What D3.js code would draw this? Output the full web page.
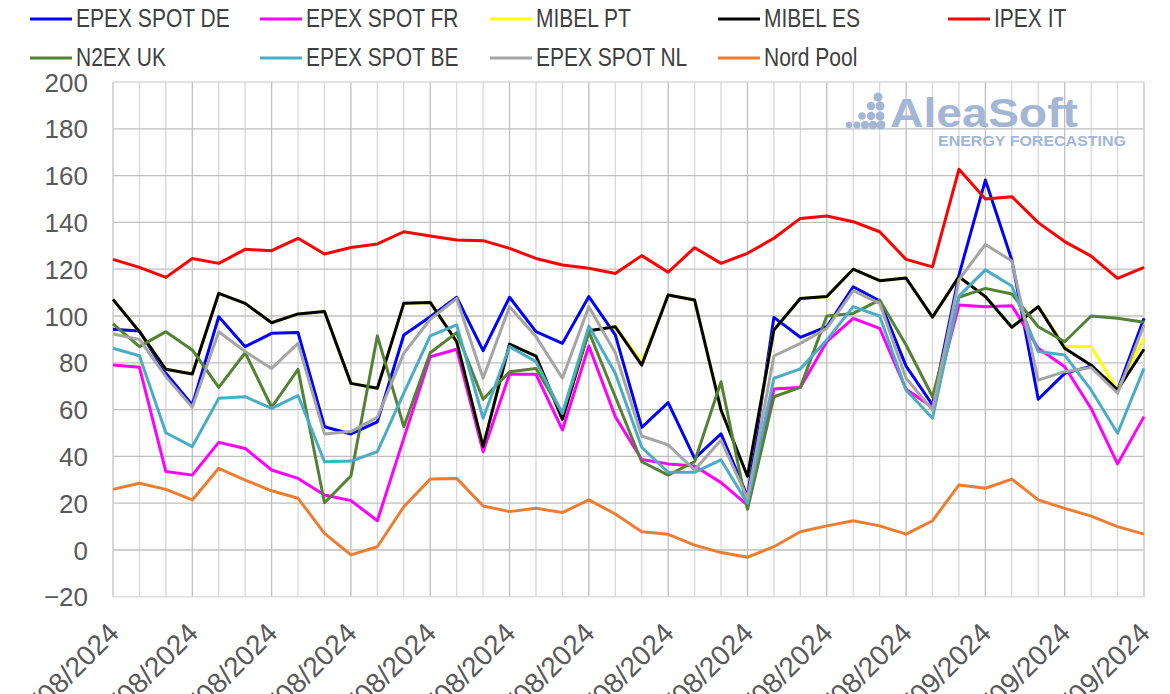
<!DOCTYPE html>
<html>
<head>
<meta charset="utf-8">
<script src="https://cdn.jsdelivr.net/npm/d3@7"></script>
<style>
  html, body { margin: 0; padding: 0; background: #ffffff; }
  svg { display: block; }
</style>
</head>
<body>
<svg id="chart" width="1170" height="694"></svg>
<script>
const dates = [
  "01/08/2024","02/08/2024","03/08/2024","04/08/2024","05/08/2024","06/08/2024","07/08/2024","08/08/2024",
  "09/08/2024","10/08/2024","11/08/2024","12/08/2024","13/08/2024","14/08/2024","15/08/2024","16/08/2024",
  "17/08/2024","18/08/2024","19/08/2024","20/08/2024","21/08/2024","22/08/2024","23/08/2024","24/08/2024",
  "25/08/2024","26/08/2024","27/08/2024","28/08/2024","29/08/2024","30/08/2024","31/08/2024","01/09/2024",
  "02/09/2024","03/09/2024","04/09/2024","05/09/2024","06/09/2024","07/09/2024","08/09/2024","09/09/2024"
];
const xTickLabels = dates.filter((d, i) => i % 3 === 0);
const yTicks = [-20, 0, 20, 40, 60, 80, 100, 120, 140, 160, 180, 200];

const seriesNames = ["EPEX SPOT DE","EPEX SPOT FR","MIBEL PT","MIBEL ES","IPEX IT","N2EX UK","EPEX SPOT BE","EPEX SPOT NL","Nord Pool"];

const epexDE = [94.3,93.6,75.5,62,99.7,86.9,92.6,92.9,52.7,49.6,54.8,91.9,99.7,108,85.2,108,93.3,88.3,108.3,91.9,52.4,63,39.2,49.6,22.8,99.4,90.9,95.4,112.5,106.5,78.6,62,117.5,158.1,123.9,64.4,75.5,78.6,68.4,99];
const epexFR = [79.1,78.1,33.5,32,46,43.4,34.2,30.6,23.5,21.1,12.5,47.7,82.6,85.8,42,75.1,75.1,51.3,87.2,57,38.7,36.8,35.9,28.8,19.2,68.8,69.4,89,99,94.7,68.7,61,104.7,104,104.4,86.2,78.3,60.5,36.8,57];
const mibelPT = [107.1,93.3,77.2,75.2,109.7,105.4,97.1,100.9,101.9,71.2,69.1,105.4,105.8,89,44.2,88,82.9,55.8,93.7,95.4,80.5,109,106.8,59.8,31.5,94,107.5,108.3,120,115.1,116.2,99.5,116.8,108.3,95.2,104,87,87,68.4,90.5];
const mibelES = [107.1,93.3,77.2,75.2,109.7,105.4,97.1,100.9,101.9,71.2,69.1,105.4,105.8,89,44.2,88,82.9,55.8,93.7,95.4,79,109,106.8,59.8,31.5,94,107.5,108.3,120,115.1,116.2,99.5,116.8,108.3,95.2,104,86.2,79,68.4,85.8];
const ipexIT = [124.2,120.8,116.5,124.6,122.5,128.5,127.9,133.2,126.5,129.3,130.8,136,134.2,132.5,132.2,128.9,124.6,121.8,120.4,118.2,125.8,118.7,129.2,122.5,126.8,133.2,141.7,142.7,140.3,136,124.2,121,162.7,150,151,139.9,131.8,125.6,116.1,120.8];
const n2exUK = [96.6,86.9,93.3,85.5,69.5,84.3,61,77.2,20.2,31.6,91.5,52.7,84.3,92.9,64.4,76.2,77.6,58.4,93.3,65.5,37.7,32,37.7,71.9,17.4,65.5,69.5,100,101.1,106.8,87.6,65.5,108,111.8,109.4,95.4,89,100,99,97.3];
const epexBE = [86.2,83,50.1,44.2,64.8,65.5,60.5,66,37.7,38,42,67,91.5,96.2,56.3,86.9,80.5,58.4,95.7,75.5,43.9,33.2,33.2,38.5,20,73.4,77.4,89.7,104,100,68.4,56.3,108.5,119.7,112.8,84.8,83.3,68.4,49.9,77.6];
const epexNL = [92.3,90,74.1,61,93.3,84.8,77.6,88.3,49.6,50.6,56.7,84,98.6,107.5,73.4,104,91.2,73.4,104,84.3,48.7,44.9,34.2,47,22.1,82.9,88.3,94.7,110.8,105.4,73.4,59.8,115.5,130.6,123.5,72.6,76.2,78,67,96.2];
const nordPool = [25.9,28.5,25.9,21.4,34.9,29.9,25.3,22.1,7.1,-2.1,1.4,18.5,30.3,30.6,18.8,16.4,17.8,16,21.4,15.4,7.8,6.7,2.1,-1.1,-3.1,1.4,7.8,10.3,12.5,10.3,6.8,12.5,27.8,26.4,30.3,21.4,17.8,14.5,10,6.8];

const seriesColors = ["#0000ff","#ff00ff","#ffff00","#000000","#ff0000","#548235","#4bacc6","#a5a5a5","#ed7d31"];
const seriesValues = [epexDE, epexFR, mibelPT, mibelES, ipexIT, n2exUK, epexBE, epexNL, nordPool];

(function () {
const svg = d3.select("#chart");
const W = 1170, H = 694;
const pLeft = 113, pRight = 1144, pTop = 82, pBottom = 596.8;

svg.append("rect").attr("width", W).attr("height", H).attr("fill", "#ffffff");

const x = d3.scalePoint().domain(dates).range([pLeft, pRight]);
const y = d3.scaleLinear().domain([-20, 200]).range([pBottom, pTop]);

const grid = svg.append("g");
grid.selectAll("line.v").data(dates).join("line")
  .attr("x1", d => x(d)).attr("x2", d => x(d))
  .attr("y1", pTop).attr("y2", pBottom)
  .attr("stroke", (d, i) => i % 3 === 0 ? "#bfbfbf" : "#d9d9d9")
  .attr("stroke-width", 1.3);
grid.selectAll("line.h").data(yTicks).join("line")
  .attr("x1", pLeft).attr("x2", pRight)
  .attr("y1", d => y(d)).attr("y2", d => y(d))
  .attr("stroke", d => (d === -20 || d === 200) ? "#d9d9d9" : "#bfbfbf")
  .attr("stroke-width", 1.3);
grid.append("line").attr("x1", pLeft).attr("x2", pLeft).attr("y1", pTop).attr("y2", pBottom).attr("stroke", "#d9d9d9").attr("stroke-width", 1.3);
grid.append("line").attr("x1", pRight).attr("x2", pRight).attr("y1", pTop).attr("y2", pBottom).attr("stroke", "#d9d9d9").attr("stroke-width", 1.3);

// watermark logo
const logo = svg.append("g").attr("fill", "#a3b6d6");
const dotSpec = [[878,97,4.5],[871,106,4.2],[880,106,4.5],[862,116,3.8],[871,116,4.2],[880,116,4.5],[849,125,3.2],[857,125,3.6],[865,125,4],[873,125,4.3],[881,125,4.5]];
logo.selectAll("circle").data(dotSpec).join("circle")
  .attr("cx", d => d[0]).attr("cy", d => d[1]).attr("r", d => d[2]);
logo.append("text").attr("x", 890).attr("y", 127)
  .attr("font-family", "Liberation Sans, Arial, sans-serif").attr("font-weight", "bold")
  .attr("font-size", 40).attr("textLength", 188).attr("lengthAdjust", "spacingAndGlyphs").text("AleaSoft");
logo.append("text").attr("x", 938).attr("y", 146)
  .attr("font-family", "Liberation Sans, Arial, sans-serif").attr("font-weight", "bold")
  .attr("font-size", 15.5).attr("textLength", 188).attr("lengthAdjust", "spacingAndGlyphs").text("ENERGY FORECASTING");

const yAxis = d3.axisLeft(y).tickValues(yTicks).tickSize(0).tickPadding(0).tickFormat(d3.format("d"));
const gy = svg.append("g").attr("transform", `translate(${pLeft - 25},0)`).call(yAxis);
gy.select(".domain").remove();
gy.selectAll("text").attr("font-family", "Liberation Sans, Arial, sans-serif").attr("font-size", 26).attr("fill", "#595959").attr("dy", "0.35em");

const xAxis = d3.axisBottom(x).tickValues(xTickLabels).tickSize(0).tickPadding(0);
const gx = svg.append("g").attr("transform", `translate(0,${pBottom})`).call(xAxis);
gx.select(".domain").remove();
gx.selectAll("text")
  .attr("font-family", "Liberation Sans, Arial, sans-serif").attr("font-size", 28).attr("fill", "#595959")
  .attr("text-anchor", "end").attr("dy", "0.35em").attr("y", 0)
  .attr("transform", "translate(0,31) rotate(-45)");

const line = d3.line().x((d, i) => x(dates[i])).y(d => y(d));
svg.append("g").selectAll("path").data(seriesValues).join("path")
  .attr("d", d => line(d))
  .attr("fill", "none")
  .attr("stroke", (d, i) => seriesColors[i])
  .attr("stroke-width", 3)
  .attr("stroke-linejoin", "round");

const legendPos = [[30,18],[260,18],[490,18],[718,18],[948,18],[30,57],[260,57],[490,57],[718,57]];
const leg = svg.append("g");
const items = leg.selectAll("g").data(seriesNames).join("g")
  .attr("transform", (d, i) => `translate(${legendPos[i][0]},${legendPos[i][1]})`);
items.append("line").attr("x1", 0).attr("x2", 42).attr("y1", 1).attr("y2", 1)
  .attr("stroke", (d, i) => seriesColors[i]).attr("stroke-width", 3);
items.append("text").attr("x", 46).attr("y", 0).attr("dy", "0.35em")
  .attr("font-family", "Liberation Sans Narrow, Arial Narrow, Liberation Sans, sans-serif").attr("font-size", 25)
  .attr("fill", "#404040").text(d => d)
  .each(function () {
    const len = this.getComputedTextLength();
    if (len > 0) d3.select(this).attr("textLength", (len * 0.84).toFixed(1)).attr("lengthAdjust", "spacingAndGlyphs");
  });
})();
</script>
</body>
</html>
